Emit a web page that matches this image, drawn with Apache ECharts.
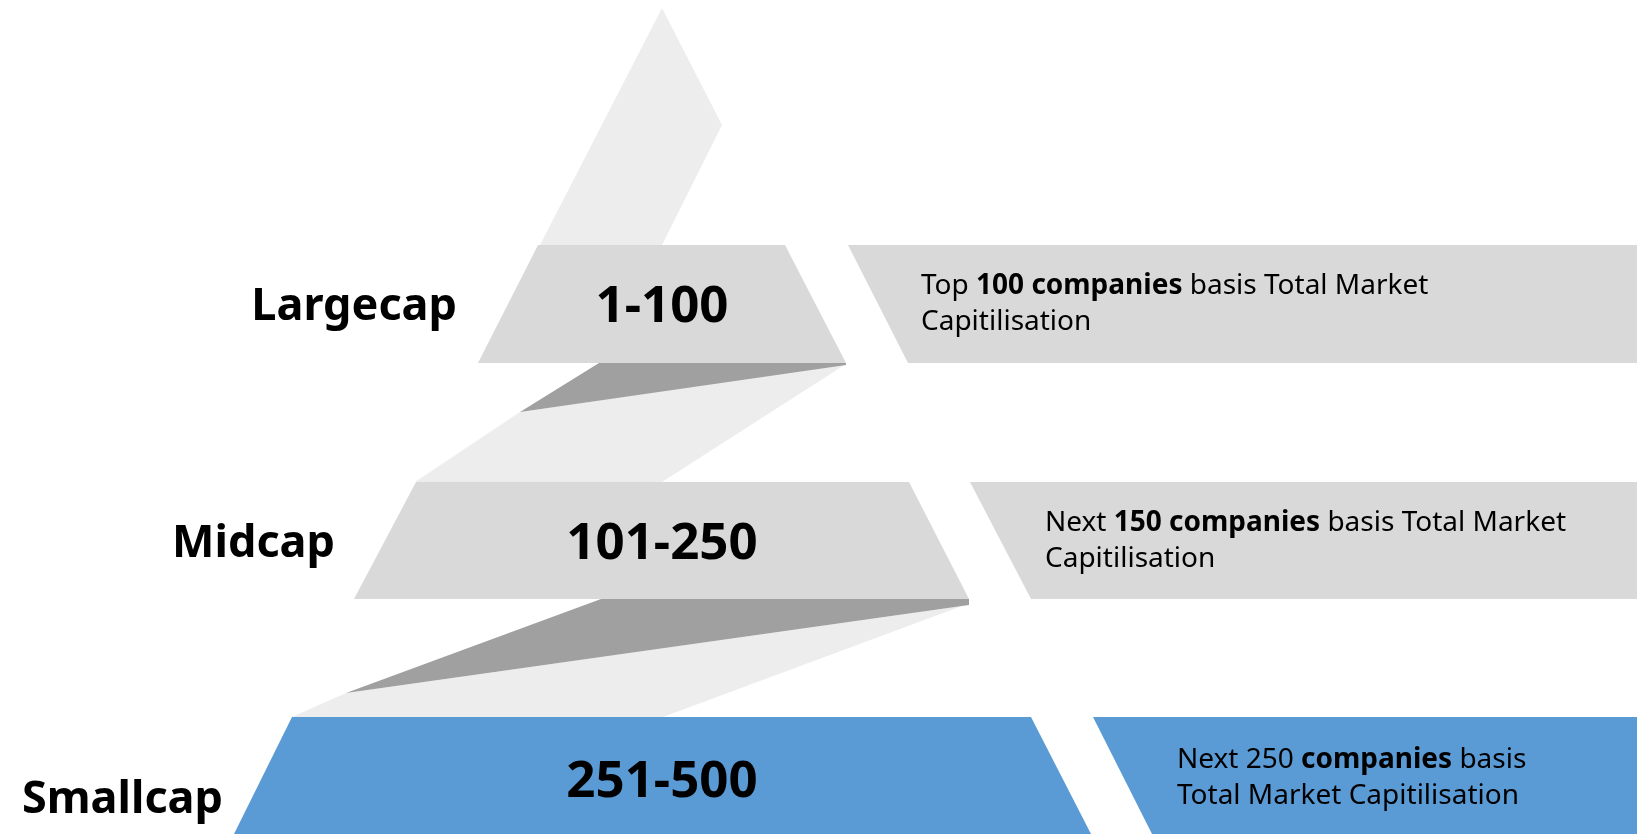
<!DOCTYPE html>
<html>
<head>
<meta charset="utf-8">
<script src="https://cdn.jsdelivr.net/npm/echarts@6/dist/echarts.min.js"></script>
<style>
html,body{margin:0;padding:0;background:#fff;}
#chart{width:1637px;height:834px;}
</style>
</head>
<body>
<div id="chart"></div>
<script>
// ---- data (diagram units: x 0..1637, y 0..834 from top) ----
const tierNames = ['Largecap', 'Midcap', 'Smallcap'];
const rangeLabels = ['1-100', '101-250', '251-500'];
const descBefore = ['Top ', 'Next ', 'Next 250 '];
const descBold = ['100 companies', '150 companies', 'companies'];
const descAfter = [' basis Total Market', ' basis Total Market', ' basis'];
const descLine2 = ['Capitilisation', 'Capitilisation', 'Total Market Capitilisation'];

const tierTopY = [245, 482, 717];
const tierBottomY = [363, 599, 834];
const trapTopX = [[538, 785], [416, 909], [292, 1031]];
const trapBottomX = [[478, 846], [354, 969], [234, 1091]];
const boxTopLeftX = [848, 970, 1093];
const boxBottomLeftX = [908, 1031, 1152];
const boxRightX = 1637;

const labelRightX = [457, 335, 223];
const labelY = [307, 544, 800];
const rangeCenterX = [662, 662, 662];
const rangeY = [307, 544, 782];
const descLeftX = [921, 1045, 1177];
const descY = [304, 541, 778];

const lightStrips = [
  [[662, 8], [722, 125], [662, 245], [540, 245]],
  [[520, 412], [846, 364], [662, 482], [415, 482]],
  [[346, 693], [962, 606], [663, 717], [292, 717]]
];
const darkFolds = [
  [[599, 363], [846, 363], [846, 365], [520, 412]],
  [[601, 599], [969, 599], [969, 605], [346, 693]]
];

const tierFill = ['#d9d9d9', '#d9d9d9', '#5b9bd5'];
const FONT = '"Noto Sans", sans-serif';

function poly(api, pts, color) {
  return {
    type: 'polygon',
    shape: { points: pts.map(p => api.coord(p)) },
    style: { fill: color, stroke: null }
  };
}

const chart = echarts.init(document.getElementById('chart'));
chart.setOption({
  animation: false,
  grid: { left: 0, right: 0, top: 0, bottom: 0 },
  xAxis: { type: 'value', min: 0, max: 1637, show: false },
  yAxis: { type: 'value', min: 0, max: 834, inverse: true, show: false },
  series: [
    {
      type: 'custom', name: 'light',
      data: lightStrips.map((s, i) => [s[0][0], s[0][1], i]),
      renderItem: (params, api) => poly(api, lightStrips[params.dataIndex], '#ededed')
    },
    {
      type: 'custom', name: 'dark',
      data: darkFolds.map((s, i) => [s[0][0], s[0][1], i]),
      renderItem: (params, api) => poly(api, darkFolds[params.dataIndex], '#a0a0a0')
    },
    {
      type: 'custom', name: 'tiers',
      data: tierNames.map((n, i) => [rangeCenterX[i], rangeY[i], i]),
      renderItem: (params, api) => {
        const i = params.dataIndex;
        const pts = [
          [trapTopX[i][0], tierTopY[i]], [trapTopX[i][1], tierTopY[i]],
          [trapBottomX[i][1], tierBottomY[i]], [trapBottomX[i][0], tierBottomY[i]]
        ];
        const box = [
          [boxTopLeftX[i], tierTopY[i]], [boxRightX, tierTopY[i]],
          [boxRightX, tierBottomY[i]], [boxBottomLeftX[i], tierBottomY[i]]
        ];
        const c = api.coord([rangeCenterX[i], rangeY[i]]);
        const l = api.coord([labelRightX[i], labelY[i]]);
        const d = api.coord([descLeftX[i], descY[i]]);
        return {
          type: 'group',
          children: [
            poly(api, pts, tierFill[i]),
            poly(api, box, tierFill[i]),
            {
              type: 'text', x: c[0], y: c[1],
              style: {
                text: rangeLabels[i], fill: '#000', align: 'center', verticalAlign: 'middle',
                font: 'bold 51px ' + FONT
              }
            },
            {
              type: 'text', x: l[0], y: l[1],
              style: {
                text: tierNames[i], fill: '#000', align: 'right', verticalAlign: 'middle',
                font: 'bold 45px ' + FONT
              }
            },
            {
              type: 'text', x: d[0], y: d[1],
              style: {
                text: '{r|' + descBefore[i] + '}{b|' + descBold[i] + '}{r|' + descAfter[i] + '}\n{r|' + descLine2[i] + '}',
                align: 'left', verticalAlign: 'middle',
                rich: {
                  r: { fontFamily: FONT, fontSize: 28, fontWeight: 'normal', color: '#1e1e1e', lineHeight: 36 },
                  b: { fontFamily: FONT, fontSize: 28, fontWeight: 'bold', color: '#1e1e1e', lineHeight: 36 }
                }
              }
            }
          ]
        };
      }
    }
  ]
});
</script>
</body>
</html>
